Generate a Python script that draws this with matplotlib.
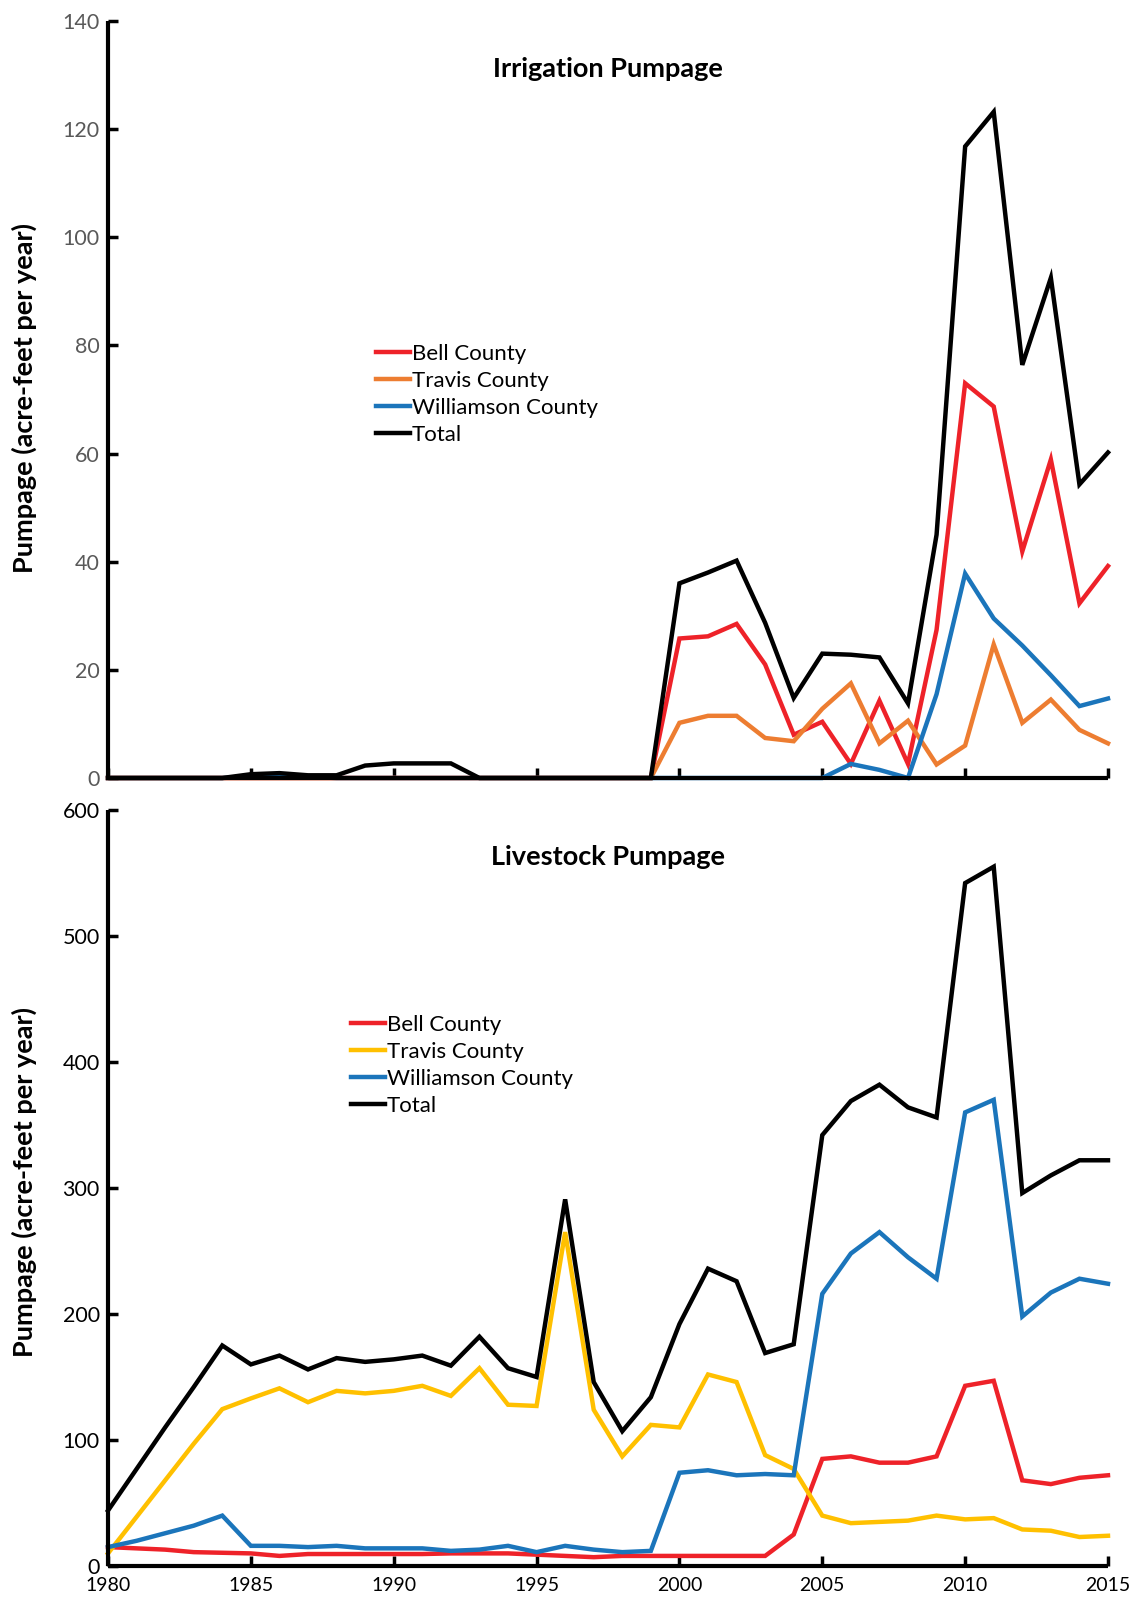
import matplotlib
matplotlib.use("Agg")
import matplotlib.pyplot as plt
import numpy as np

plt.rcParams['font.family'] = ['Lato', 'DejaVu Sans']

years = list(range(1980, 2016))

# Irrigation pumpage (acre-feet per year)
irr_bell = [0]*20 + [25.8, 26.2, 28.5, 21.0, 8.0, 10.4, 2.6, 14.3, 2.6, 27.4, 73.0, 68.7, 41.9, 58.9, 32.3, 39.2]
irr_travis = [0]*20 + [10.2, 11.5, 11.5, 7.4, 6.8, 12.8, 17.5, 6.4, 10.6, 2.5, 6.0, 24.7, 10.2, 14.5, 8.9, 6.4]
irr_williamson = [0, 0, 0, 0, 0, 0.3, 0.4, 0.2, 0, 0, 0, 0, 0, 0, 0, 0, 0, 0, 0, 0,
                  0, 0, 0, 0, 0, 0, 2.6, 1.5, 0, 15.5, 37.8, 29.5, 24.5, 19.0, 13.3, 14.7]
irr_total = [0, 0, 0, 0, 0, 0.7, 0.9, 0.5, 0.5, 2.3, 2.7, 2.7, 2.7, 0, 0, 0, 0, 0, 0, 0,
             36.0, 38.0, 40.2, 28.7, 14.8, 23.0, 22.8, 22.3, 13.8, 45.0, 116.8, 123.2, 76.4, 92.5, 54.3, 60.2]

# Livestock pumpage (acre-feet per year)
liv_bell = [15, 14, 13, 11, 10.5, 10, 8, 9.5, 9.5, 9.5, 9.5, 9.5, 10, 10, 10, 9, 8, 7, 8, 8,
            8, 8, 8, 8, 25, 85, 87, 82, 82, 87, 143, 147, 68, 65, 70, 72]
liv_travis = [10, 39, 68, 97, 124.5, 133, 141, 130, 139, 137, 139, 143, 135, 157, 128, 127, 265, 124, 87, 112,
              110, 152, 146, 88, 77, 40, 34, 35, 36, 40, 37, 38, 29, 28, 23, 24]
liv_williamson = [15, 20, 26, 32, 40, 16, 16, 15, 16, 14, 14, 14, 12, 13, 16, 11, 16, 13, 11, 12,
                  74, 76, 72, 73, 72, 216, 248, 265, 245, 228, 360, 370, 198, 217, 228, 224]
liv_total = [44, 77, 110, 142, 175, 160, 167, 156, 165, 162, 164, 167, 159, 182, 157, 150, 291, 146, 107, 134,
             192, 236, 226, 169, 176, 342, 369, 382, 364, 356, 542, 555, 296, 310, 322, 322]

labels_irr = ['Bell County', 'Travis County', 'Williamson County', 'Total']
colors_irr = ['#EE2229', '#ED7D31', '#1B75BB', '#000000']
labels_liv = ['Bell County', 'Travis County', 'Williamson County', 'Total']
colors_liv = ['#EE2229', '#FFC000', '#1B75BB', '#000000']

xticks = [1980, 1985, 1990, 1995, 2000, 2005, 2010, 2015]

W, H = 1143, 1600
fig = plt.figure(figsize=(W/100, H/100), dpi=100)

def axes_px(left, top, right, bottom):
    return fig.add_axes([left/W, 1-bottom/H, (right-left)/W, (bottom-top)/H])

ax1 = axes_px(108, 21, 1108, 778)
ax2 = axes_px(108, 810, 1108, 1566)

def style(ax, ymax, ystep, tickcolor, show_xlabels):
    ax.set_xlim(1980, 2015)
    ax.set_ylim(0, ymax)
    for s in ['top', 'right']:
        ax.spines[s].set_visible(False)
    for s in ['left', 'bottom']:
        ax.spines[s].set_linewidth(3.0)
        ax.spines[s].set_color('black')
        ax.spines[s].set_capstyle('butt')
    ax.set_yticks(np.arange(0, ymax + 1, ystep))
    ax.set_xticks(xticks)
    ax.tick_params(axis='both', direction='in', length=7, width=2.5, color='black')
    ax.tick_params(axis='y', labelsize=15.5, labelcolor=tickcolor, pad=6)
    ax.tick_params(axis='x', labelsize=14, labelcolor='black', pad=8)
    if not show_xlabels:
        ax.set_xticklabels([])

leg_kw = dict(loc='upper left', frameon=False, fontsize=16, handlelength=1.55,
              handletextpad=0.05, labelspacing=0.31, borderaxespad=0, borderpad=0)

series_irr = [irr_bell, irr_travis, irr_williamson, irr_total]
for vals, lab, c in zip(series_irr, labels_irr, colors_irr):
    ax1.plot(years, vals, color=c, lw=3.2, label=lab, clip_on=False, solid_joinstyle='miter')
style(ax1, 140, 20, '#595959', False)
ax1.text(0.5, 0.936, 'Irrigation Pumpage', transform=ax1.transAxes, ha='center', va='center',
         fontsize=19.5, fontweight='bold')
ax1.legend(bbox_to_anchor=((376-108)/1000, (778-344)/757), **leg_kw)

series_liv = [liv_bell, liv_travis, liv_williamson, liv_total]
for vals, lab, c in zip(series_liv, labels_liv, colors_liv):
    ax2.plot(years, vals, color=c, lw=3.2, label=lab, clip_on=False, solid_joinstyle='miter')
style(ax2, 600, 100, 'black', True)
ax2.text(0.5, 0.938, 'Livestock Pumpage', transform=ax2.transAxes, ha='center', va='center',
         fontsize=19.5, fontweight='bold')
ax2.legend(bbox_to_anchor=((351-108)/1000, (1566-1015)/756), **leg_kw)

fig.text(24/W, 1-398/H, 'Pumpage (acre-feet per year)', rotation=90, ha='center', va='center',
         fontsize=19.5, fontweight='bold')
fig.text(24/W, 1-1182/H, 'Pumpage (acre-feet per year)', rotation=90, ha='center', va='center',
         fontsize=19.5, fontweight='bold')

fig.savefig('out.png', dpi=100)
